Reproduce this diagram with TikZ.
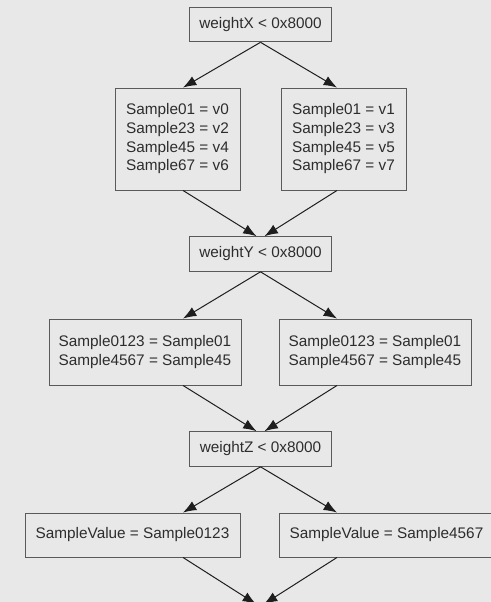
\documentclass[tikz,border=0pt]{standalone}
\usepackage{fontspec}
\setmainfont{Liberation Sans}
\usetikzlibrary{arrows.meta}

\definecolor{bgcol}{RGB}{232,232,232}
\definecolor{edgecol}{RGB}{30,30,30}
\definecolor{boxcol}{RGB}{90,90,90}
\definecolor{txtcol}{RGB}{45,45,45}

\begin{document}
\begin{tikzpicture}[x=0.75pt, y=-0.75pt,
    box/.style={draw=boxcol, fill=bgcol, line width=0.7pt, text=txtcol, align=left,
      inner sep=0pt, font=\fontsize{11.5}{14}\selectfont},
    cond/.style={box, minimum width=107pt, minimum height=26pt},
    arr/.style={-{Latex[length=10pt, width=7.5pt]}, draw=edgecol, line width=0.75pt}]
  \useasboundingbox[fill=bgcol] (0,0) rectangle (491,602);
  % columns the edges run along
  \coordinate (lcol) at (183,0);
  \coordinate (rcol) at (337,0);
  \coordinate (sink) at (260,604);
  % X split
  \node[cond] (wx) at (260.5,24.5) {weightX < 0x8000};
  \node[box, minimum width=93.75pt, minimum height=76.5pt] (s0) at (177.5,139)
    {Sample01 = v0\\Sample23 = v2\\Sample45 = v4\\Sample67 = v6};
  \node[box, minimum width=93.75pt, minimum height=76.5pt] (s1) at (343.5,139)
    {Sample01 = v1\\Sample23 = v3\\Sample45 = v5\\Sample67 = v7};
  % Y split
  \node[cond] (wy) at (260.5,254) {weightY < 0x8000};
  \node[box, minimum width=144pt, minimum height=49.5pt] (t0) at (145,352)
    {Sample0123 = Sample01\\Sample4567 = Sample45};
  \node[box, minimum width=144pt, minimum height=49.5pt] (t1) at (375,352)
    {Sample0123 = Sample01\\Sample4567 = Sample45};
  % Z split
  \node[cond] (wz) at (260.5,449) {weightZ < 0x8000};
  \node[box, minimum width=161.25pt, minimum height=33pt] (u0) at (132.5,535)
    {SampleValue = Sample0123};
  \node[box, minimum width=161.25pt, minimum height=33pt] (u1) at (386.5,535)
    {SampleValue = Sample4567};
  % edges
  \foreach \src/\dst/\col in {wx/s0/lcol, wx/s1/rcol, wy/t0/lcol, wy/t1/rcol, wz/u0/lcol, wz/u1/rcol} {
    \draw[arr] (\src.south) -- (\dst.north -| \col);
  }
  \foreach \src/\dst in {s0/wy, t0/wz} {
    \draw[arr] (\src.south -| lcol) -- ([xshift=-3pt]\dst.north);
  }
  \foreach \src/\dst in {s1/wy, t1/wz} {
    \draw[arr] (\src.south -| rcol) -- ([xshift=3pt]\dst.north);
  }
  \draw[arr] (u0.south -| lcol) -- ([xshift=-3pt]sink);
  \draw[arr] (u1.south -| rcol) -- ([xshift=3pt]sink);
\end{tikzpicture}
\end{document}
